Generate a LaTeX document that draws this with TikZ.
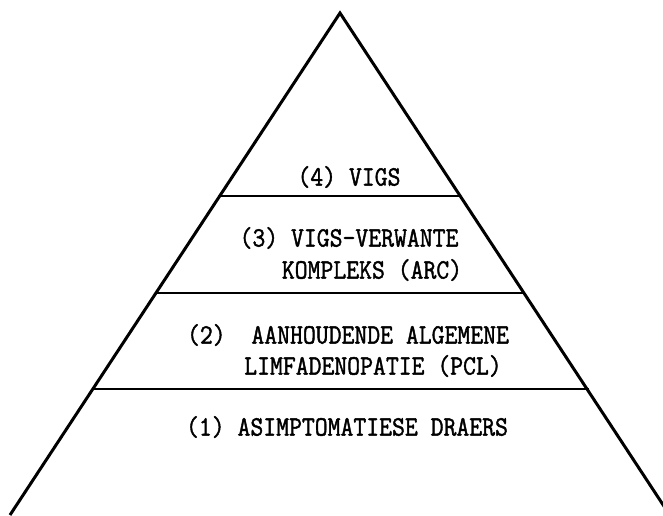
\documentclass[tikz,border=0pt]{standalone}
\usepackage{graphicx}
\usepackage{fontspec}
\newfontfamily\twfont[FakeBold=1.6]{Latin Modern Mono}
\newcommand{\tallt}[1]{\scalebox{1}[1.12]{#1}}
\begin{document}
\begin{tikzpicture}[x=1pt,y=-1pt,
  side/.style={line width=3pt,line join=miter},
  tier/.style={line width=2.6pt},
  lbl/.style={font=\twfont\fontsize{25}{29}\selectfont,inner sep=0pt,anchor=center}]
\useasboundingbox (0,0) rectangle (663,515);
\clip (0,0) rectangle (663,515);
\coordinate (apex) at (340,13);
\coordinate (bl) at (10,515);
\coordinate (br) at (675,523);
\draw[side] (bl) -- (apex) -- (br);
\coordinate (l1) at (219,196); \coordinate (r1) at (461,196);
\coordinate (l2) at (156,293); \coordinate (r2) at (525,293);
\coordinate (l3) at (92,389);  \coordinate (r3) at (589,389);
\draw[tier] (l1) -- (r1);
\draw[tier] (l2) -- (r2);
\draw[tier] (l3) -- (r3);
\node[lbl] (t4) at (349,177) {\tallt{(4) VIGS}};
\node[lbl] (t3a) at (349,238) {\tallt{(3) VIGS-VERWANTE}};
\node[lbl] (t3b) at (372,270) {\tallt{KOMPLEKS (ARC)}};
\node[lbl] (t2a) at (348,335) {\tallt{(2)\ \ AANHOUDENDE ALGEMENE}};
\node[lbl] (t2b) at (373,366) {\tallt{LIMFADENOPATIE (PCL)}};
\node[lbl] (t1) at (347,427) {\tallt{(1) ASIMPTOMATIESE DRAERS}};
\end{tikzpicture}
\end{document}
